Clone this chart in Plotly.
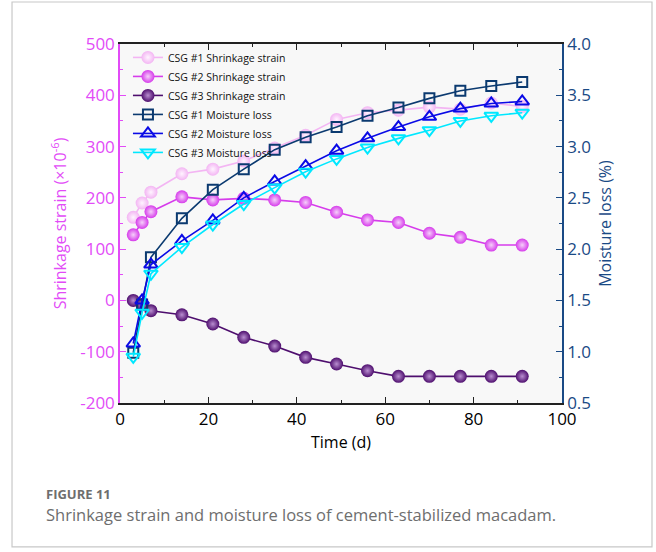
import plotly.graph_objects as go

time_d = [3, 5, 7, 14, 21, 28, 35, 42, 49, 56, 63, 70, 77, 84, 91]
shrink_1 = [162, 190, 211, 247, 256, 272, 297, 322, 353, 366, 371, 377, 373, 385, 378]
shrink_2 = [128, 152, 173, 202, 196, 199, 196, 191, 172, 157, 152, 131, 123, 108, 108]
shrink_3 = [0, -8, -20, -28, -46, -72, -89, -111, -124, -137, -148, -148, -148, -148, -148]
moist_1 = [0.99, 1.46, 1.92, 2.30, 2.58, 2.78, 2.97, 3.09, 3.19, 3.30, 3.38, 3.47, 3.545, 3.59, 3.63]
moist_2 = [1.08, 1.50, 1.85, 2.08, 2.28, 2.50, 2.66, 2.81, 2.96, 3.08, 3.19, 3.29, 3.37, 3.42, 3.44]
moist_3 = [0.95, 1.38, 1.76, 2.02, 2.24, 2.44, 2.60, 2.755, 2.88, 2.99, 3.08, 3.16, 3.25, 3.30, 3.33]

names = ["CSG #1 Shrinkage strain", "CSG #2 Shrinkage strain", "CSG #3 Shrinkage strain",
         "CSG #1 Moisture loss", "CSG #2 Moisture loss", "CSG #3 Moisture loss"]

left_tickvals = [-200, -100, 0, 100, 200, 300, 400, 500]
left_ticktext = ["-200", "-100", "0", "100", "200", "300", "400", "500"]

FONT = "Open Sans, Noto Sans, sans-serif"
MAG = "#E24BF7"
NAVY = "#1A4A85"

fig = go.Figure()

sphere_specs = [(shrink_1, "#F3B5F3", "#FFF4FF"),
                (shrink_2, "#D63CEB", "#F6D0FA"),
                (shrink_3, "#4E0E6E", "#B98ED0")]
for (vals, col, hi), nm in zip(sphere_specs, names[:3]):
    fig.add_trace(go.Scatter(
        x=time_d, y=vals, name=nm, mode="lines+markers", yaxis="y",
        line=dict(color=col, width=1.6),
        marker=dict(size=13, color=col, line=dict(width=0),
                    gradient=dict(type="radial", color=hi)),
    ))

moist_specs = [(moist_1, "#0B3A70", "square-open", 10),
               (moist_2, "#0A0AE6", "triangle-up-open", 12),
               (moist_3, "#00E8FF", "triangle-down-open", 12)]
for (vals, col, sym, sz), nm in zip(moist_specs, names[3:]):
    fig.add_trace(go.Scatter(
        x=time_d, y=vals, name=nm, mode="lines+markers", yaxis="y2",
        line=dict(color=col, width=1.6),
        marker=dict(size=sz, symbol=sym, color=col, line=dict(width=2, color=col)),
    ))

# outer frame
fig.add_shape(type="rect", xref="paper", yref="paper",
              x0=-0.2443, x1=1.2036, y0=-0.401, y1=1.117,
              line=dict(color="#C8C8C8", width=1.2), fillcolor="rgba(0,0,0,0)", layer="below")

fig.add_annotation(text="<b>FIGURE 11</b>", xref="paper", yref="paper",
                   x=-0.172, y=-0.254, xanchor="left", yanchor="middle", showarrow=False,
                   font=dict(family=FONT, size=13, color="#6E6E6E"))
fig.add_annotation(text="Shrinkage strain and moisture loss of cement-stabilized macadam.",
                   xref="paper", yref="paper",
                   x=-0.172, y=-0.311, xanchor="left", yanchor="middle", showarrow=False,
                   font=dict(family=FONT, size=16.5, color="#6E6E6E"))

fig.update_layout(
    width=656, height=552,
    margin=dict(l=120, r=94, t=44, b=149),
    paper_bgcolor="white", plot_bgcolor="#F8F8F8",
    font=dict(family=FONT, color="black"),
    showlegend=True,
    legend=dict(x=0.018, y=1.003, xanchor="left", yanchor="top",
                bgcolor="rgba(0,0,0,0)", borderwidth=0,
                font=dict(family=FONT, size=10.5, color="#111111"),
                tracegroupgap=0, itemwidth=30),
    xaxis=dict(range=[0, 100], dtick=20, tick0=0, showgrid=False, zeroline=False,
               showline=True, linecolor="#222222", linewidth=1.5, mirror="ticks",
               ticks="inside", ticklen=6, tickwidth=1.2, tickcolor="#222222",
               minor=dict(dtick=10, ticks="inside", ticklen=3, tickcolor="#222222", showgrid=False),
               tickfont=dict(size=17, color="black"),
               title=dict(text="Time (d)", font=dict(size=16, color="black"), standoff=8)),
    yaxis=dict(range=[-200, 500], tickmode="array", tickvals=left_tickvals, ticktext=left_ticktext,
               showgrid=False, zeroline=False,
               showline=True, linecolor=MAG, linewidth=1.5,
               ticks="inside", ticklen=6, tickwidth=1.2, tickcolor=MAG,
               minor=dict(dtick=50, tick0=0, ticks="inside", ticklen=3, tickcolor=MAG, showgrid=False),
               tickfont=dict(size=17, color=MAG),
               title=dict(text="Shrinkage strain (×10<sup>-6</sup>)", font=dict(size=16, color=MAG), standoff=10)),
    yaxis2=dict(range=[0.5, 4.0], dtick=0.5, tick0=0.5, overlaying="y", side="right",
                showgrid=False, zeroline=False, tickformat=".1f",
                showline=True, linecolor=NAVY, linewidth=1.5,
                ticks="inside", ticklen=6, tickwidth=1.2, tickcolor=NAVY,
                minor=dict(dtick=0.25, ticks="inside", ticklen=3, tickcolor=NAVY, showgrid=False),
                tickfont=dict(size=17, color=NAVY),
                title=dict(text="Moisture loss (%)", font=dict(size=16, color=NAVY), standoff=10)),
)

fig.write_html("out.html")
